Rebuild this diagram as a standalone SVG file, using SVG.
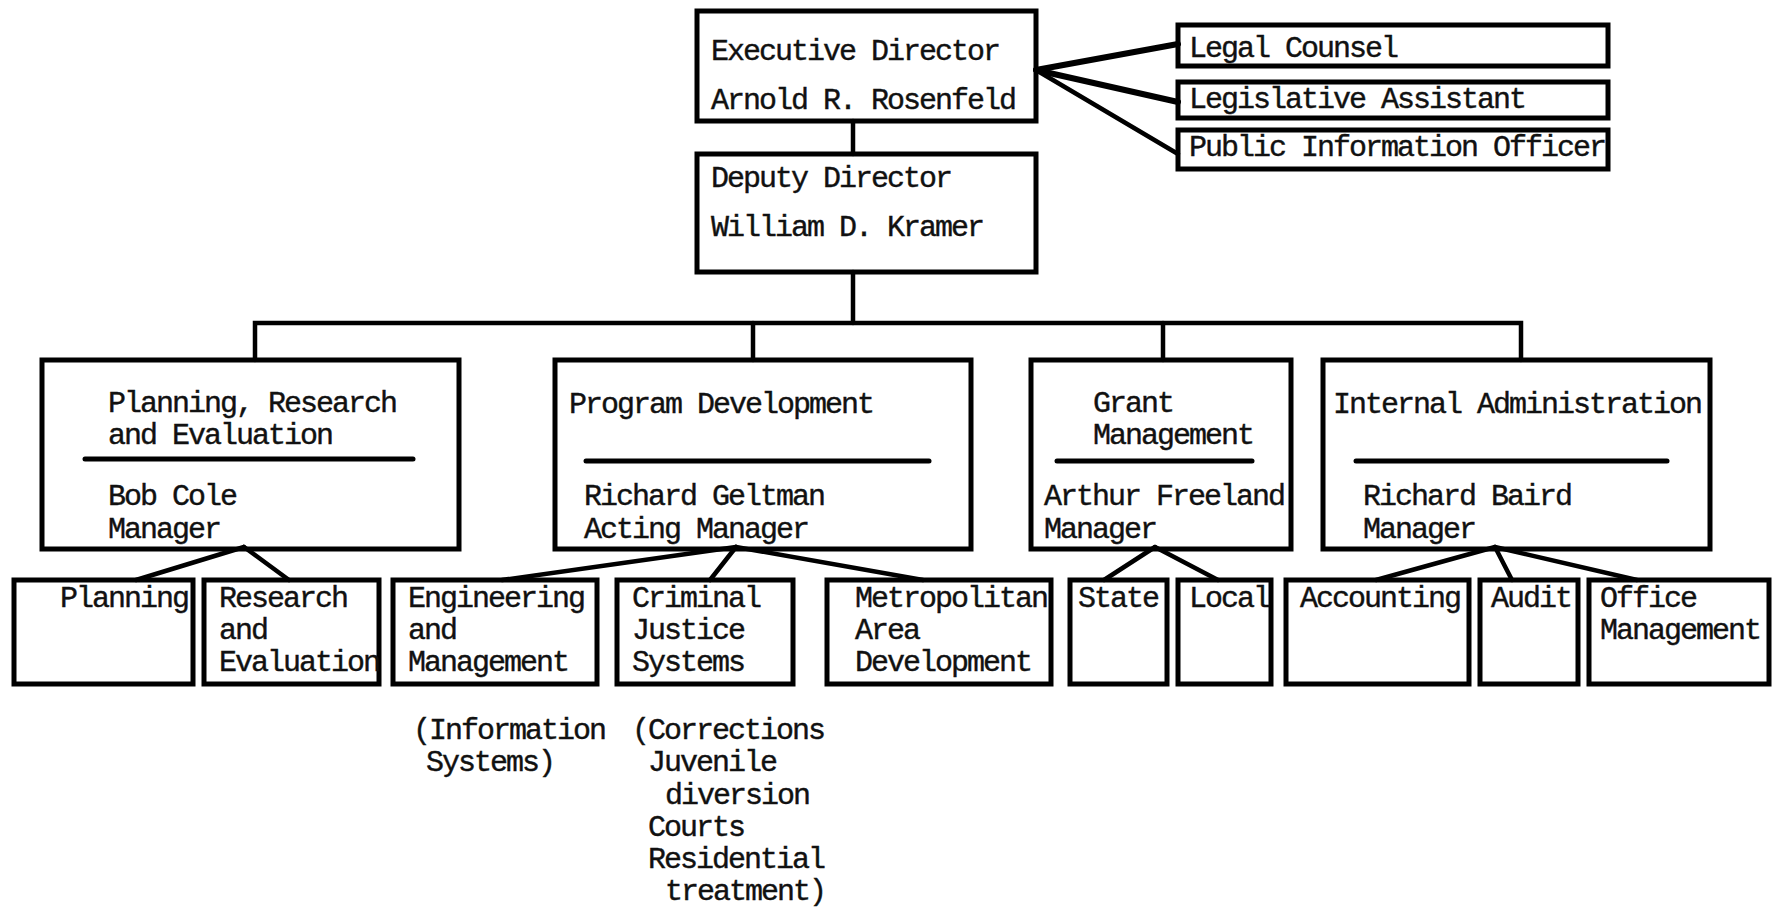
<svg xmlns="http://www.w3.org/2000/svg" width="1776" height="908" viewBox="0 0 1776 908">
<style>
.box{fill:none;stroke:#000;stroke-width:5;stroke-linejoin:miter}
.div{stroke:#000;stroke-width:5;stroke-linecap:round}
.conn line,.conn path{stroke:#000;stroke-width:4.5;fill:none;stroke-linecap:round}
text{font-family:"Liberation Mono","DejaVu Sans Mono",monospace;font-size:30px;letter-spacing:-2px;fill:#111;stroke:#111;stroke-width:0.4}
</style>
<rect width="1776" height="908" fill="#fff"/>
<g id="connectors" class="conn">
<line x1="853" y1="121" x2="853" y2="154"/>
<line x1="853" y1="272" x2="853" y2="323"/>
<path d="M255 360 V323 H1521 V360"/>
<line x1="753" y1="323" x2="753" y2="360"/>
<line x1="1163" y1="323" x2="1163" y2="360"/>
<line x1="1036" y1="70" x2="1178" y2="44" style="stroke-width:6"/>
<line x1="1036" y1="70" x2="1178" y2="102" style="stroke-width:6"/>
<line x1="1036" y1="70" x2="1178" y2="154"/>
<line x1="244" y1="547" x2="136" y2="580"/>
<line x1="244" y1="547" x2="289" y2="580"/>
<line x1="736" y1="547" x2="502" y2="580"/>
<line x1="736" y1="547" x2="710" y2="580"/>
<line x1="736" y1="547" x2="923" y2="580"/>
<line x1="1155" y1="547" x2="1104" y2="580"/>
<line x1="1155" y1="547" x2="1218" y2="580"/>
<line x1="1495" y1="547" x2="1376" y2="580"/>
<line x1="1495" y1="547" x2="1512" y2="580"/>
<line x1="1495" y1="547" x2="1637" y2="580"/>
</g>
<g id="exec"><rect class="box" x="697" y="11" width="339" height="110"/>
<text x="711" y="60">Executive Director</text><text x="711" y="109">Arnold R. Rosenfeld</text></g>
<g id="deputy"><rect class="box" x="697" y="154" width="339" height="118"/>
<text x="711" y="187">Deputy Director</text><text x="711" y="236">William D. Kramer</text></g>
<g id="legal"><rect class="box" x="1178" y="25" width="430" height="41"/><text x="1189" y="57">Legal Counsel</text></g>
<g id="legis"><rect class="box" x="1178" y="82" width="430" height="36"/><text x="1189" y="108">Legislative Assistant</text></g>
<g id="pio"><rect class="box" x="1178" y="130" width="430" height="39"/><text x="1189" y="156">Public Information Officer</text></g>
<g id="pre"><rect class="box" x="42" y="360" width="417" height="189"/>
<text x="108" y="412">Planning, Research</text><text x="108" y="444">and Evaluation</text>
<line class="div" x1="85" y1="459" x2="413" y2="459"/>
<text x="108" y="505">Bob Cole</text><text x="108" y="538">Manager</text></g>
<g id="pd"><rect class="box" x="555" y="360" width="416" height="189"/>
<text x="569" y="413">Program Development</text>
<line class="div" x1="586" y1="461" x2="929" y2="461"/>
<text x="584" y="505">Richard Geltman</text><text x="584" y="538">Acting Manager</text></g>
<g id="gm"><rect class="box" x="1031" y="360" width="260" height="189"/>
<text x="1093" y="412">Grant</text><text x="1093" y="444">Management</text>
<line class="div" x1="1057" y1="461" x2="1252" y2="461"/>
<text x="1044" y="505">Arthur Freeland</text><text x="1044" y="538">Manager</text></g>
<g id="ia"><rect class="box" x="1323" y="360" width="387" height="189"/>
<text x="1333" y="413">Internal Administration</text>
<line class="div" x1="1356" y1="461" x2="1667" y2="461"/>
<text x="1363" y="505">Richard Baird</text><text x="1363" y="538">Manager</text></g>
<g id="planning"><rect class="box" x="14" y="580" width="179" height="104"/><text x="60" y="607">Planning</text></g>
<g id="research"><rect class="box" x="204" y="580" width="175" height="104"/><text x="219" y="607">Research</text><text x="219" y="639">and</text><text x="219" y="671">Evaluation</text></g>
<g id="engineering"><rect class="box" x="393" y="580" width="204" height="104"/><text x="408" y="607">Engineering</text><text x="408" y="639">and</text><text x="408" y="671">Management</text></g>
<g id="criminal"><rect class="box" x="617" y="580" width="176" height="104"/><text x="632" y="607">Criminal</text><text x="632" y="639">Justice</text><text x="632" y="671">Systems</text></g>
<g id="metro"><rect class="box" x="827" y="580" width="224" height="104"/><text x="855" y="607">Metropolitan</text><text x="855" y="639">Area</text><text x="855" y="671">Development</text></g>
<g id="state"><rect class="box" x="1070" y="580" width="97" height="104"/><text x="1078" y="607">State</text></g>
<g id="local"><rect class="box" x="1178" y="580" width="93" height="104"/><text x="1189" y="607">Local</text></g>
<g id="accounting"><rect class="box" x="1286" y="580" width="183" height="104"/><text x="1300" y="607">Accounting</text></g>
<g id="audit"><rect class="box" x="1480" y="580" width="98" height="104"/><text x="1491" y="607">Audit</text></g>
<g id="office"><rect class="box" x="1589" y="580" width="180" height="104"/><text x="1600" y="607">Office</text><text x="1600" y="639">Management</text></g>
<g id="notes">
<text x="413" y="739">(Information</text><text x="426" y="771">Systems)</text>
<text x="632" y="739">(Corrections</text><text x="648" y="771">Juvenile</text><text x="665" y="804">diversion</text><text x="648" y="836">Courts</text><text x="648" y="868">Residential</text><text x="665" y="900">treatment)</text>
</g>
</svg>
